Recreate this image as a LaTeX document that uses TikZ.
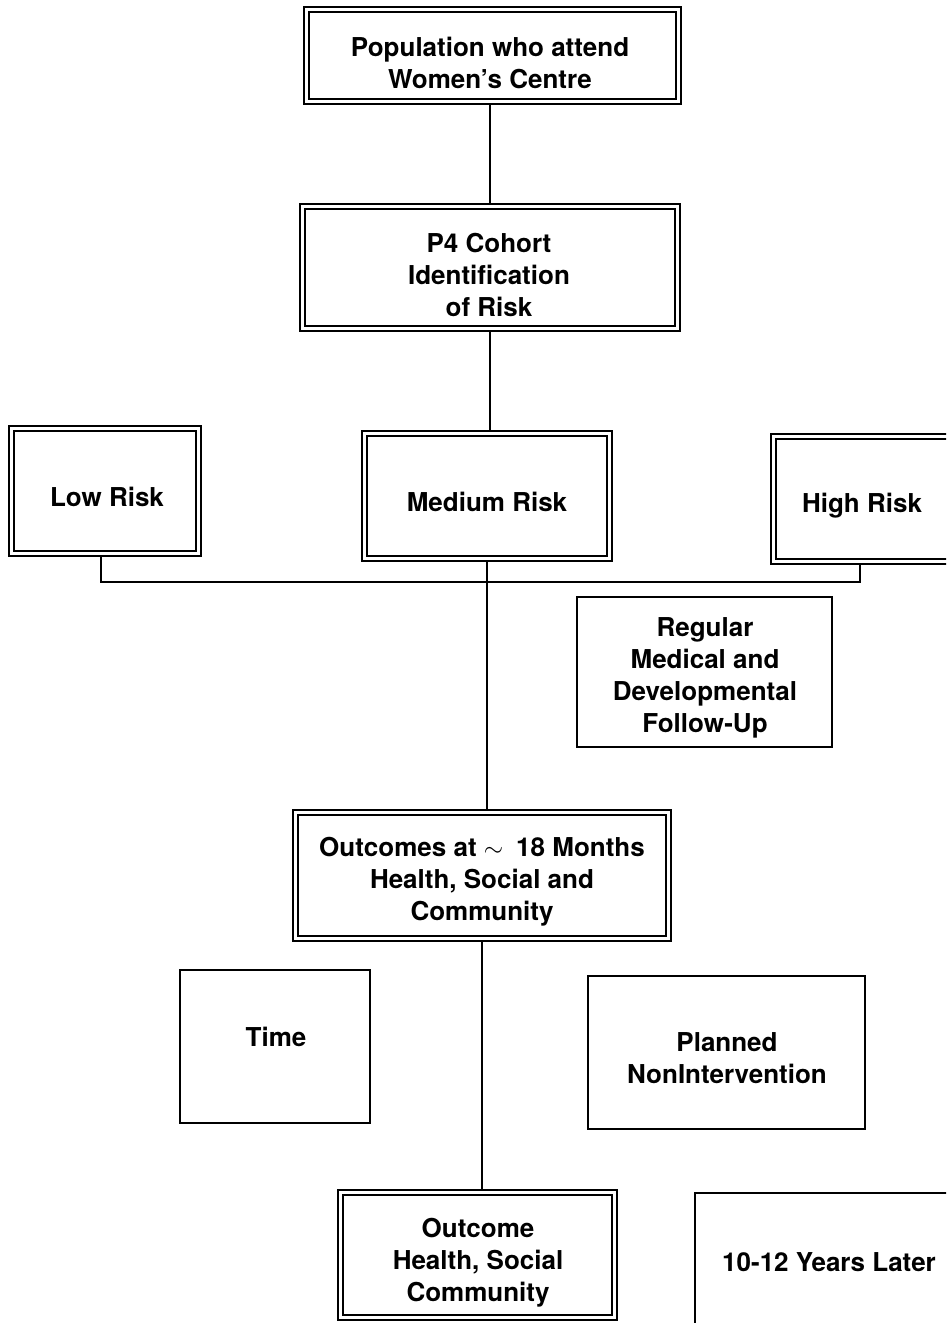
\documentclass[tikz,border=0pt]{standalone}
\usepackage{fontspec}
\setmainfont{TeX Gyre Heros}
\begin{document}
\begin{tikzpicture}[x=1pt,y=-1pt,
  txt/.style={align=center, inner sep=0pt, font=\fontsize{26}{32}\selectfont\bfseries},
  sbox/.style={draw, line width=1.7pt, inner sep=0pt},
  dbox/.style={draw, line width=2.4pt, inner sep=0pt,
    path picture={\draw[line width=1.2pt]
      ([shift={(5pt,-5pt)}]path picture bounding box.north west) rectangle
      ([shift={(-5pt,5pt)}]path picture bounding box.south east);}},
  conn/.style={line width=1.8pt}]
\useasboundingbox (0,0) rectangle (946,1323);
\clip (0,0) rectangle (946,1323);
% boxes
\node[dbox, minimum width=377pt, minimum height=97pt] (pop) at (492.5,55.5) {};
\node[dbox, minimum width=380pt, minimum height=127pt] (p4) at (490,267.5) {};
\node[dbox, minimum width=192pt, minimum height=130pt] (low) at (105,491) {};
\node[dbox, minimum width=250pt, minimum height=130pt] (med) at (487,496) {};
\node[dbox, minimum width=182pt, minimum height=130pt] (high) at (862,499) {};
\node[sbox, minimum width=255pt, minimum height=150pt] (reg) at (704.5,672) {};
\node[dbox, minimum width=378pt, minimum height=131pt] (out18) at (482,875.5) {};
\node[sbox, minimum width=190pt, minimum height=153pt] (time) at (275,1046.5) {};
\node[sbox, minimum width=277pt, minimum height=153pt] (plan) at (726.5,1052.5) {};
\node[dbox, minimum width=279pt, minimum height=130pt] (outc) at (477.5,1255) {};
\node[sbox, minimum width=268pt, minimum height=142pt] (years) at (829,1264) {};
% texts
\node[txt] (popt) at (490,63) {Population who attend\\Women’s Centre};
\node[txt] (p4t) at (489,275) {P4 Cohort\\Identification\\of Risk};
\node[txt] (lowt) at (107,497) {Low Risk};
\node[txt] (medt) at (487,502) {Medium Risk};
\node[txt] (hight) at (862,506) {High Risk};
\node[txt] (regt) at (705,678) {Regular\\Medical and\\Developmental\\Follow-Up};
\node[txt] (out18t) at (482,882) {Outcomes at $\sim$\enspace 18 Months\\Health, Social and\\Community};
\node[txt] (timet) at (276,1037) {Time};
\node[txt] (plant) at (727,1058) {Planned\\NonIntervention};
\node[txt] (outct) at (478,1263) {Outcome\\Health, Social\\Community};
\node[txt] (yearst) at (829,1262) {10-12 Years Later};
% connectors
\draw[conn] (pop.south -| p4.north) -- (p4.north);
\draw[conn] (p4.south) -- (p4.south |- med.north);
\draw[conn] ([xshift=-4pt]low.south) -- ++(0,25) -| ([xshift=-2pt]high.south);
\draw[conn] (med.south) -- (med.south |- out18.north);
\draw[conn] (out18.south) -- (out18.south |- outc.north);
\end{tikzpicture}
\end{document}
